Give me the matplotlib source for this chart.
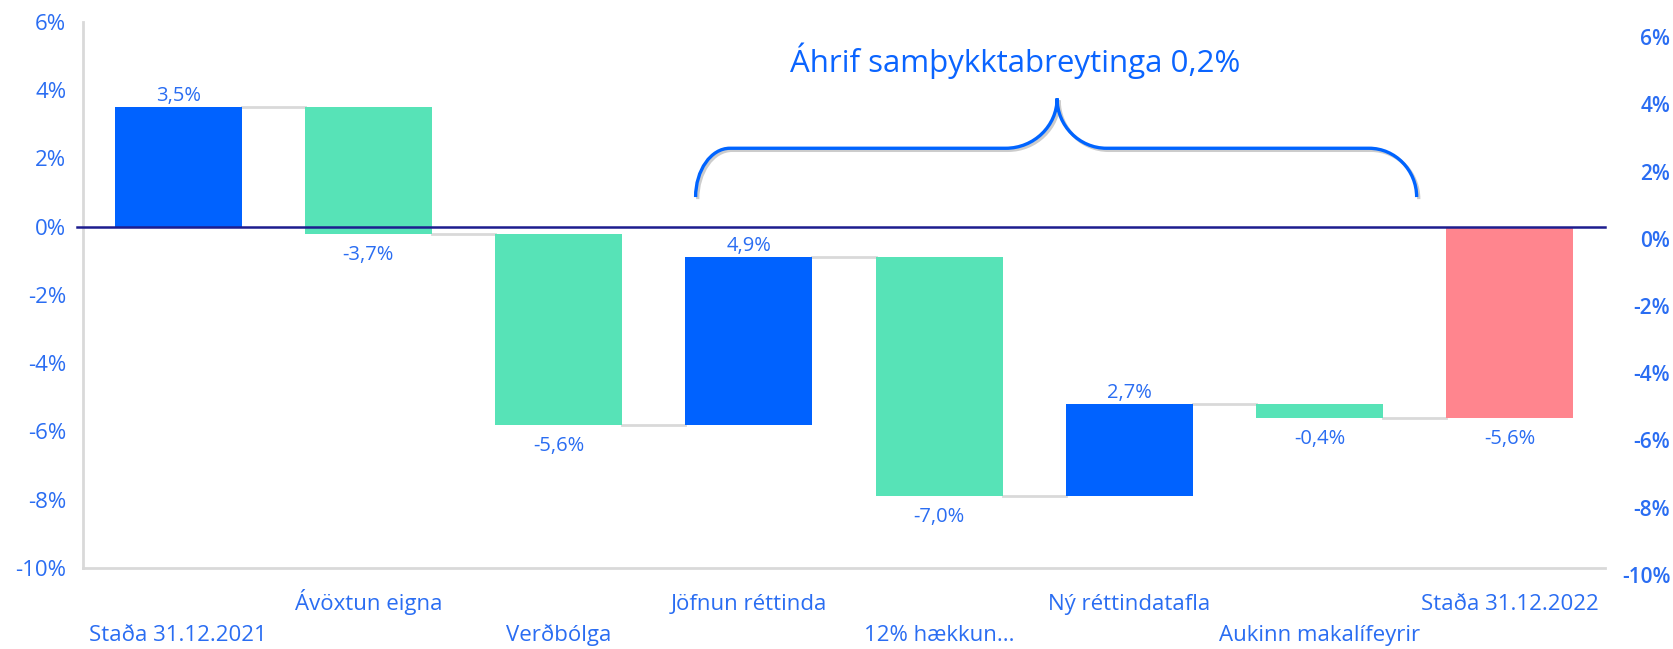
import numpy as np
import matplotlib
matplotlib.use("Agg")
import matplotlib.pyplot as plt
from matplotlib.path import Path
from matplotlib.patches import PathPatch
import matplotlib.patheffects as pe

categories = ["Staða 31.12.2021", "Ávöxtun eigna", "Verðbólga", "Jöfnun réttinda",
              "12% hækkun...", "Ný réttindatafla", "Aukinn makalífeyrir", "Staða 31.12.2022"]
changes = [3.5, -3.7, -5.6, 4.9, -7.0, 2.7, -0.4]
total = -5.6
yticks = [-10, -8, -6, -4, -2, 0, 2, 4, 6]
brace_text = "Áhrif samþykktabreytinga 0,2%"

BLUE = "#0062ff"
GREEN = "#57e3b7"
PINK = "#ff858e"
TEXT = "#2a6df2"
GRID = "#d9d9d9"

plt.rcParams["font.family"] = ["Open Sans", "DejaVu Sans"]

changes = np.array(changes)
ends = np.cumsum(changes)
starts = ends - changes
bottoms = list(starts) + [0]
heights = list(changes) + [total]
colors = [BLUE if v > 0 else GREEN for v in changes] + [PINK]
x = np.arange(len(categories))
width = 0.667

fig = plt.figure(figsize=(16.73, 6.49), dpi=100)
ax = fig.add_axes([83 / 1673, 1 - 568 / 649, (1605 - 83) / 1673, (568 - 22) / 649])

ax.bar(x, heights, bottom=bottoms, width=width, color=colors, zorder=2)

# connectors between bars
for i, lvl in enumerate(ends):
    ax.plot([x[i] + width / 2, x[i + 1] - width / 2], [lvl, lvl], color=GRID, lw=2, zorder=1)

ax.axhline(0, color="#1d1d8f", lw=1.8, zorder=3, xmin=-0.004, clip_on=False)

# data labels
for i, (b, h) in enumerate(zip(bottoms, heights)):
    lab = f"{h:.1f}%".replace(".", ",")
    if h > 0 and i < len(x) - 1:
        ax.annotate(lab, (x[i], b + h), xytext=(0, 1), textcoords="offset points",
                    ha="center", va="bottom", color=TEXT, fontsize=14.5)
    else:
        y = b + h if h < 0 else b
        ax.annotate(lab, (x[i], y), xytext=(0, -8), textcoords="offset points",
                    ha="center", va="top", color=TEXT, fontsize=14.5)

ax.set_xlim(-0.5, len(x) - 0.5)
ax.set_ylim(-10, 6)
ax.set_yticks(yticks)
ax.set_yticklabels([f"{t}%" for t in yticks])
ax.tick_params(axis="y", length=0, pad=12, labelsize=16, labelcolor=TEXT)
ax.set_xticks(x)
ax.set_xticklabels([])
ax.tick_params(axis="x", length=0)
for i, c in enumerate(categories):
    off = -52.6 if i % 2 == 0 else -30.2
    ax.annotate(c, (x[i], 0), xycoords=("data", "axes fraction"), xytext=(0, off),
                textcoords="offset points", ha="center", va="baseline",
                color=TEXT, fontsize=16, annotation_clip=False)
for s in ["top", "right"]:
    ax.spines[s].set_visible(False)
for s in ["left", "bottom"]:
    ax.spines[s].set_color(GRID)
    ax.spines[s].set_linewidth(2)

# secondary (right) axis labels
ax2 = fig.add_axes([83 / 1673, 1 - 575 / 649, (1605 - 83) / 1673, (575 - 37) / 649])
ax2.set_ylim(-10, 6)
ax2.patch.set_visible(False)
for s in ax2.spines.values():
    s.set_visible(False)
ax2.set_xticks([])
ax2.yaxis.tick_right()
ax2.set_yticks(yticks)
ax2.set_yticklabels([f"{t}%" for t in yticks])
ax2.tick_params(axis="y", length=0, pad=47, labelsize=15, labelcolor=TEXT)
for t in ax2.get_yticklabels():
    t.set_horizontalalignment("right")
    t.set_fontweight("semibold")

# brace annotation
k = 0.55
xl, xr, xp = 2.72, 6.51, 4.62
xa, xb = 2.90, 6.26       # where end curves meet the horizontal
xs1, xs2 = 4.35, 4.88     # where peak curves leave the horizontal
yb, yh, yt = 0.87, 2.30, 3.76
verts = [
    (xl, yb), (xl, yb + k * (yh - yb)), (xa - k * (xa - xl), yh), (xa, yh),
    (xs1, yh),
    (xs1 + k * (xp - xs1), yh), (xp, yt - k * (yt - yh)), (xp, yt),
    (xp, yt - k * (yt - yh)), (xs2 - k * (xs2 - xp), yh), (xs2, yh),
    (xb, yh),
    (xb + k * (xr - xb), yh), (xr, yb + k * (yh - yb)), (xr, yb),
]
codes = [Path.MOVETO, Path.CURVE4, Path.CURVE4, Path.CURVE4,
         Path.LINETO,
         Path.CURVE4, Path.CURVE4, Path.CURVE4,
         Path.CURVE4, Path.CURVE4, Path.CURVE4,
         Path.LINETO,
         Path.CURVE4, Path.CURVE4, Path.CURVE4]
brace = PathPatch(Path(verts, codes), facecolor="none", edgecolor="#0064ff", lw=2.4, zorder=4,
                  path_effects=[pe.SimpleLineShadow(offset=(1.5, -1.5), alpha=0.2), pe.Normal()])
ax.add_patch(brace)
ax.text(4.40, 4.87, brace_text, ha="center", va="center", color="#0a64ff", fontsize=22.5)

fig.savefig("out.png", dpi=100)
